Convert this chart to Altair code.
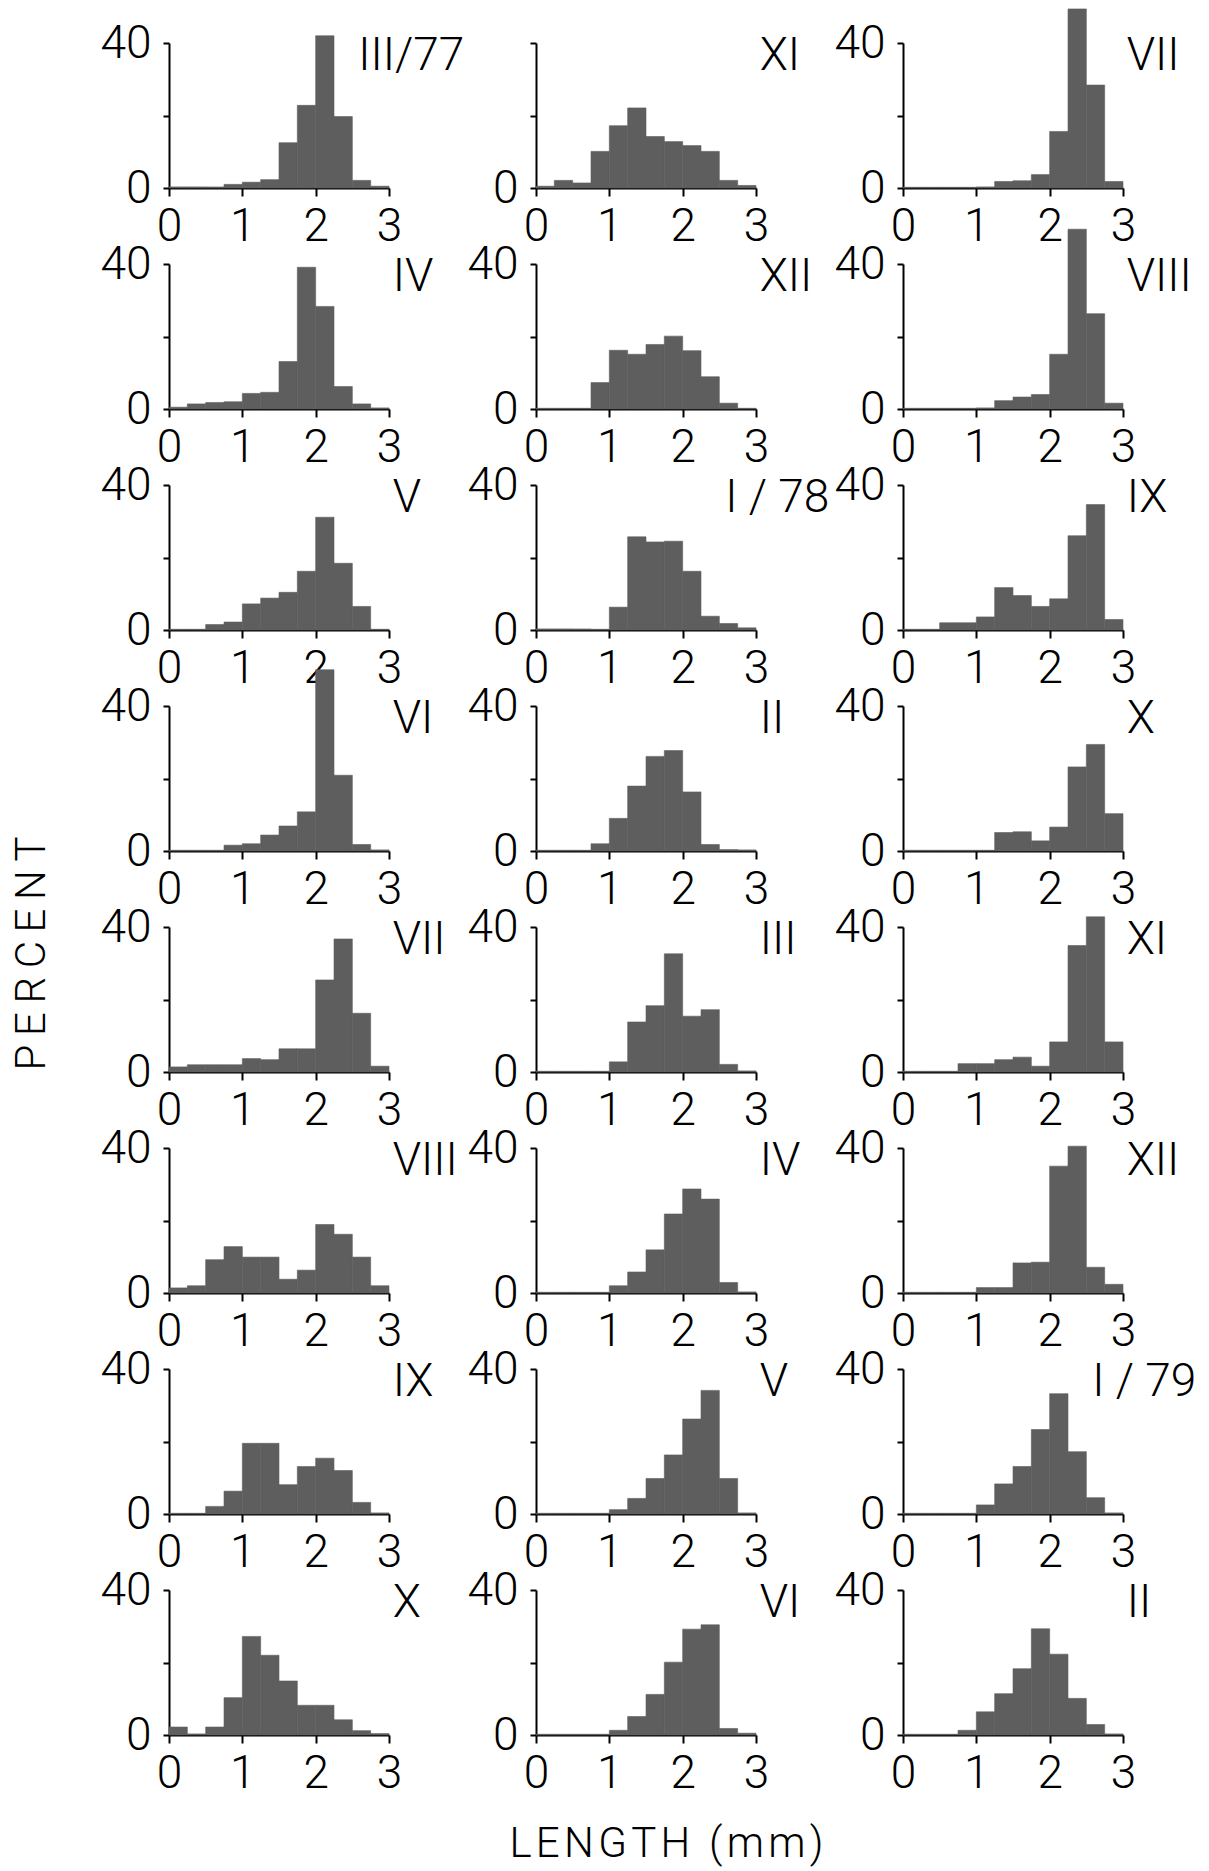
import altair as alt
import pandas as pd

# ---------------- data ----------------
bin_starts = [0.0, 0.25, 0.5, 0.75, 1.0, 1.25, 1.5, 1.75, 2.0, 2.25, 2.5, 2.75]
BIN_W = 0.25

labels = [
    "III/77", "XI", "VII",
    "IV", "XII", "VIII",
    "V", "I / 78", "IX",
    "VI", "II", "X",
    "VII", "III", "XI",
    "VIII", "IV", "XII",
    "IX", "V", "I / 79",
    "X", "VI", "II",
]

p_III77 = [0.3, 0.3, 0.3, 1.0, 1.6, 2.3, 12.5, 22.8, 42.0, 19.7, 2.1, 0.5]
p_XI77 = [0.5, 2.1, 1.4, 10.1, 17.2, 22.1, 14.2, 12.8, 11.7, 10.1, 2.1, 0.7]
p_VII78 = [0.2, 0.2, 0.2, 0.2, 0.3, 1.8, 2.0, 3.7, 15.6, 49.4, 28.4, 1.8]
p_IV77 = [0.5, 1.4, 1.8, 2.0, 4.3, 4.6, 13.1, 39.1, 28.3, 6.2, 1.4, 0.3]
p_XII77 = [0.2, 0.2, 0.2, 7.3, 16.2, 15.1, 17.8, 20.1, 16.1, 8.9, 1.6, 0.2]
p_VIII78 = [0.2, 0.2, 0.2, 0.2, 0.3, 2.3, 3.3, 4.0, 15.1, 49.6, 26.3, 1.6]
p_V77 = [0.2, 0.2, 1.5, 2.2, 7.2, 8.8, 10.4, 16.2, 31.1, 18.4, 6.5, 0.2]
p_I78 = [0.3, 0.3, 0.3, 0.2, 6.3, 25.7, 24.3, 24.5, 16.2, 3.8, 1.8, 0.6]
p_IX78 = [0.2, 0.2, 2.0, 2.0, 3.6, 11.7, 9.5, 6.5, 8.6, 26.0, 34.6, 2.9]
p_VI77 = [0.2, 0.2, 0.2, 1.6, 2.0, 4.4, 6.9, 10.8, 50.0, 20.9, 1.8, 0.3]
p_II78 = [0.2, 0.2, 0.2, 2.0, 9.0, 17.9, 26.1, 27.7, 16.3, 1.8, 0.4, 0.3]
p_X78 = [0.2, 0.2, 0.2, 0.2, 0.2, 5.1, 5.3, 2.8, 6.6, 23.2, 29.4, 10.3]
p_VII77 = [1.4, 2.0, 2.0, 2.0, 3.7, 3.4, 6.4, 6.4, 25.4, 36.7, 16.2, 1.6]
p_III78 = [0.2, 0.2, 0.2, 0.2, 2.8, 13.8, 18.3, 32.6, 15.4, 17.2, 2.1, 0.3]
p_XI78 = [0.2, 0.2, 0.2, 2.3, 2.3, 3.4, 4.1, 1.6, 8.3, 34.9, 42.8, 8.3]
p_VIII77 = [1.4, 2.0, 9.2, 12.8, 9.9, 9.9, 3.8, 6.3, 18.9, 16.2, 9.9, 2.0]
p_IV78 = [0.2, 0.2, 0.2, 0.2, 2.0, 5.8, 11.9, 21.8, 28.7, 25.9, 2.9, 0.3]
p_XII78 = [0.2, 0.2, 0.2, 0.2, 1.5, 1.5, 8.3, 8.5, 35.0, 40.5, 7.1, 2.4]
p_IX77 = [0.2, 0.2, 2.1, 6.3, 19.5, 19.5, 8.1, 13.1, 15.4, 12.0, 3.2, 0.3]
p_V78 = [0.2, 0.2, 0.2, 0.2, 1.2, 4.3, 9.8, 16.3, 26.2, 34.1, 9.8, 0.3]
p_I79 = [0.2, 0.2, 0.2, 0.2, 2.5, 8.3, 13.1, 23.3, 33.2, 17.2, 4.5, 0.3]
p_X77 = [2.2, 0.3, 2.2, 10.3, 27.2, 22.0, 14.9, 8.2, 8.2, 4.2, 1.2, 0.4]
p_VI78 = [0.2, 0.2, 0.2, 0.2, 1.3, 5.1, 11.2, 20.1, 29.2, 30.4, 1.8, 0.5]
p_II79 = [0.2, 0.2, 0.2, 1.3, 6.4, 11.4, 18.3, 29.3, 22.3, 10.1, 2.9, 0.3]

series = [
    p_III77, p_XI77, p_VII78,
    p_IV77, p_XII77, p_VIII78,
    p_V77, p_I78, p_IX78,
    p_VI77, p_II78, p_X78,
    p_VII77, p_III78, p_XI78,
    p_VIII77, p_IV78, p_XII78,
    p_IX77, p_V78, p_I79,
    p_X77, p_VI78, p_II79,
]

x_ticks = [0, 1, 2, 3]
y_ticks = [0, 20, 40]

# ---------------- style ----------------
FONT = "Roboto"
FW = 300
PANEL_W = 220
PANEL_H = 145
BAR_FILL = "#5e5e5e"

y_title = "\u2009".join("PERCENT")
x_title = "\u200a".join("LENGTH (mm)")

panels = []
for i, (lab, vals) in enumerate(zip(labels, series)):
    row, col = divmod(i, 3)
    df = pd.DataFrame({
        "start": bin_starts,
        "end": [b + BIN_W for b in bin_starts],
        "pct": vals,
    })
    lab_x = 2.58 if "/" in lab else 3.05
    tdf = pd.DataFrame({"lab": [lab], "lx": [lab_x], "ly": [32.5]})

    x_axis_kw = dict(values=x_ticks, format="d", tickSize=8, labelPadding=8,
                     labelFlush=False, labelOverlap=False, title=None)
    hide40 = (row == 0 and col == 1)
    y_axis_kw = dict(values=y_ticks, tickSize=6, labelPadding=12,
                     labelFlush=False, labelOverlap=False, title=None,
                     labelExpr=("datum.value == 0 ? datum.label : ''" if hide40
                                else "datum.value == 20 ? '' : datum.label"))
    if row == 7 and col == 1:
        x_axis_kw.update(title=x_title, titleX=130, titleY=108,
                         titleAlign="center", titleBaseline="middle",
                         titleFont=FONT, titleFontSize=42, titleFontWeight=FW,
                         titleColor="black")
    if row == 4 and col == 0:
        y_axis_kw.update(title=y_title, titleX=-138, titleY=26,
                         titleAlign="center", titleBaseline="middle",
                         titleFont=FONT, titleFontSize=42, titleFontWeight=FW,
                         titleColor="black")

    xs = alt.Scale(domain=[0, 3], nice=False, zero=False)
    ys = alt.Scale(domain=[0, 40], nice=False)

    bars = alt.Chart(df).mark_bar(
        fill=BAR_FILL, stroke=BAR_FILL, strokeWidth=0.6
    ).encode(
        x=alt.X("start:Q", scale=xs, axis=alt.Axis(**x_axis_kw)),
        x2="end:Q",
        y=alt.Y("pct:Q", scale=ys, axis=alt.Axis(**y_axis_kw)),
        y2=alt.datum(0),
    )
    text = alt.Chart(tdf).mark_text(
        align="left", baseline="alphabetic", font=FONT, fontSize=46,
        fontWeight=FW, color="black"
    ).encode(
        x=alt.X("lx:Q", scale=xs),
        y=alt.Y("ly:Q", scale=ys),
        text="lab:N",
    )
    panels.append(alt.layer(bars, text).properties(width=PANEL_W, height=PANEL_H))

chart = alt.concat(
    *panels, columns=3, spacing={"row": 76, "column": 147}, bounds="flush"
).properties(
    padding={"left": 9, "top": 8, "right": 5, "bottom": 5},
    background="white",
).configure_view(
    stroke=None
).configure_axis(
    grid=False,
    domainColor="black",
    domainWidth=2,
    tickColor="black",
    tickWidth=2,
    labelFont=FONT,
    labelFontSize=46,
    labelFontWeight=FW,
    labelColor="black",
)

chart.save("out.html", embed_options={"renderer": "svg", "actions": False})
